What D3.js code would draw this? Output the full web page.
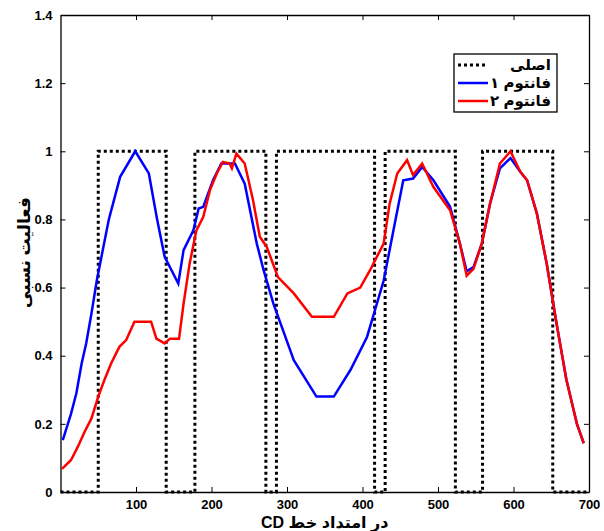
<!DOCTYPE html>
<html>
<head>
<meta charset="utf-8">
<script src="https://cdn.jsdelivr.net/npm/d3@7"></script>
<style>
  body { margin: 0; background: #fff; }
  text { font-family: "Liberation Sans", "DejaVu Sans", sans-serif; font-weight: bold; }
</style>
</head>
<body>
<div id="chart"></div>
<script>
// Original (square wave) profile: edges and level between them
const origEdges = [0, 50, 140, 178, 272, 286, 416, 430, 523, 559, 652, 700];
const origLevel = [0, 1, 0, 1, 0, 1, 0, 1, 0, 1, 0, 0];

// Phantom 1 (blue)
const blueX = [3, 14, 21, 28, 34, 41, 48, 56, 64, 79, 99, 117, 128, 138, 156, 163, 176, 183, 189, 202, 213, 231, 244, 260, 269, 282, 309, 339, 362, 384, 406, 428, 441, 454, 467, 479, 494, 516, 529, 538, 547, 558, 569, 582, 596, 609, 618, 631, 644, 657, 670, 684, 693];
const blueY = [0.152, 0.23, 0.29, 0.377, 0.436, 0.524, 0.62, 0.71, 0.80, 0.925, 1.0, 0.935, 0.80, 0.69, 0.612, 0.71, 0.768, 0.832, 0.837, 0.915, 0.964, 0.964, 0.905, 0.729, 0.651, 0.553, 0.387, 0.28, 0.28, 0.358, 0.455, 0.62, 0.768, 0.915, 0.92, 0.954, 0.915, 0.837, 0.729, 0.648, 0.66, 0.729, 0.847, 0.95, 0.98, 0.94, 0.915, 0.817, 0.67, 0.495, 0.33, 0.2, 0.143];

// Phantom 2 (red)
const redX = [2, 14, 23, 32, 41, 50, 58, 67, 78, 87, 98, 120, 127, 138, 145, 157, 163, 171, 180, 189, 198, 207, 215, 224, 227, 233, 244, 255, 264, 273, 288, 309, 333, 362, 380, 397, 410, 428, 436, 446, 459, 467, 479, 494, 516, 529, 538, 547, 558, 569, 582, 596, 609, 618, 631, 644, 657, 670, 684, 693];
const redY = [0.068, 0.094, 0.133, 0.177, 0.216, 0.28, 0.328, 0.377, 0.426, 0.446, 0.50, 0.50, 0.45, 0.436, 0.45, 0.45, 0.553, 0.67, 0.768, 0.807, 0.886, 0.935, 0.969, 0.964, 0.95, 0.993, 0.964, 0.856, 0.749, 0.72, 0.631, 0.583, 0.514, 0.514, 0.583, 0.60, 0.651, 0.729, 0.847, 0.935, 0.974, 0.93, 0.964, 0.895, 0.827, 0.729, 0.635, 0.655, 0.729, 0.847, 0.964, 1.0, 0.94, 0.915, 0.817, 0.67, 0.495, 0.33, 0.2, 0.143];

const xTicks = [100, 200, 300, 400, 500, 600, 700];
const yTicks = [0, 0.2, 0.4, 0.6, 0.8, 1, 1.2, 1.4];
const legendLabels = ["اصلی", "فانتوم ۱", "فانتوم ۲"];
const xLabel = "در امتداد خط CD";
const yLabel = "فعالیت نسبی";

// Set the dimensions and margins of the graph
const margin = {top: 15, right: 15, bottom: 39, left: 60.5},
    width = 604 - margin.left - margin.right,
    height = 531 - margin.top - margin.bottom;

const svg = d3.select("#chart")
  .append("svg")
    .attr("width", 604)
    .attr("height", 531)
  .append("g")
    .attr("transform", `translate(${margin.left},${margin.top})`);

const x = d3.scaleLinear().domain([0, 700]).range([0, width]);
const y = d3.scaleLinear().domain([0, 1.4]).range([height, 0]);

// Axes with inward ticks (all four sides)
const fmt = d => d3.format("")(d);
svg.append("g")
    .attr("transform", `translate(0,${height})`)
    .call(d3.axisBottom(x).tickValues(xTicks).tickSizeInner(-5).tickSizeOuter(0).tickPadding(8).tickFormat(fmt))
    .call(g => g.selectAll("text").style("font-size", "13px"));
svg.append("g")
    .call(d3.axisLeft(y).tickValues(yTicks).tickSizeInner(-5).tickSizeOuter(0).tickPadding(8).tickFormat(fmt))
    .call(g => g.selectAll("text").style("font-size", "13px"));
svg.append("g")
    .call(d3.axisTop(x).tickValues(xTicks).tickSizeInner(-5).tickSizeOuter(0).tickFormat(""));
svg.append("g")
    .attr("transform", `translate(${width},0)`)
    .call(d3.axisRight(y).tickValues(yTicks).tickSizeInner(-5).tickSizeOuter(0).tickFormat(""));
svg.selectAll(".domain").attr("stroke", "#000").attr("stroke-width", 1.3);
svg.selectAll(".tick line").attr("stroke", "#000");

// Original square profile
const origLine = d3.line()
    .x((d, i) => x(origEdges[i]))
    .y(d => y(d))
    .curve(d3.curveStepAfter);
svg.append("path")
    .attr("d", origLine(origLevel))
    .attr("fill", "none")
    .attr("stroke", "#000")
    .attr("stroke-width", 3)
    .attr("stroke-dasharray", "3,3");

const line = d3.line().x(d => x(d[0])).y(d => y(d[1]));
svg.append("path")
    .attr("d", line(blueX.map((v, i) => [v, blueY[i]])))
    .attr("fill", "none")
    .attr("stroke", "#0000ff")
    .attr("stroke-width", 2.5);
svg.append("path")
    .attr("d", line(redX.map((v, i) => [v, redY[i]])))
    .attr("fill", "none")
    .attr("stroke", "#ff0000")
    .attr("stroke-width", 2.5);

// Axis labels (right-to-left text)
svg.append("text")
    .attr("x", width / 2)
    .attr("y", height + 36)
    .attr("text-anchor", "middle")
    .attr("direction", "rtl")
    .style("font-size", "16px")
    .text(xLabel);
svg.append("text")
    .attr("transform", "rotate(-90)")
    .attr("x", -height / 2 + 1)
    .attr("y", -margin.left + 30)
    .attr("text-anchor", "middle")
    .attr("direction", "rtl")
    .style("font-size", "17px")
    .text(yLabel);

// Legend
const lg = svg.append("g").attr("transform", `translate(${454 - margin.left},${54 - margin.top})`);
lg.append("rect")
    .attr("width", 103)
    .attr("height", 58)
    .attr("fill", "#fff")
    .attr("stroke", "#000")
    .attr("stroke-width", 1.3);
const legendStyles = [
  {color: "#000", dash: "3,3", w: 3},
  {color: "#0000ff", dash: null, w: 2.5},
  {color: "#ff0000", dash: null, w: 2.5}
];
const legend = lg.selectAll(".legend")
    .data(legendLabels)
    .enter().append("g")
    .attr("class", "legend")
    .attr("transform", (d, i) => `translate(0, ${11 + i * 18})`);
legend.append("line")
    .attr("x1", 4).attr("x2", 34)
    .attr("y1", 0).attr("y2", 0)
    .attr("stroke", (d, i) => legendStyles[i].color)
    .attr("stroke-width", (d, i) => legendStyles[i].w)
    .attr("stroke-dasharray", (d, i) => legendStyles[i].dash);
legend.append("text")
    .attr("x", 97)
    .attr("y", 0)
    .attr("dy", ".35em")
    .attr("text-anchor", "start")
    .attr("direction", "rtl")
    .style("font-size", "15px")
    .text(d => d);
</script>
</body>
</html>
